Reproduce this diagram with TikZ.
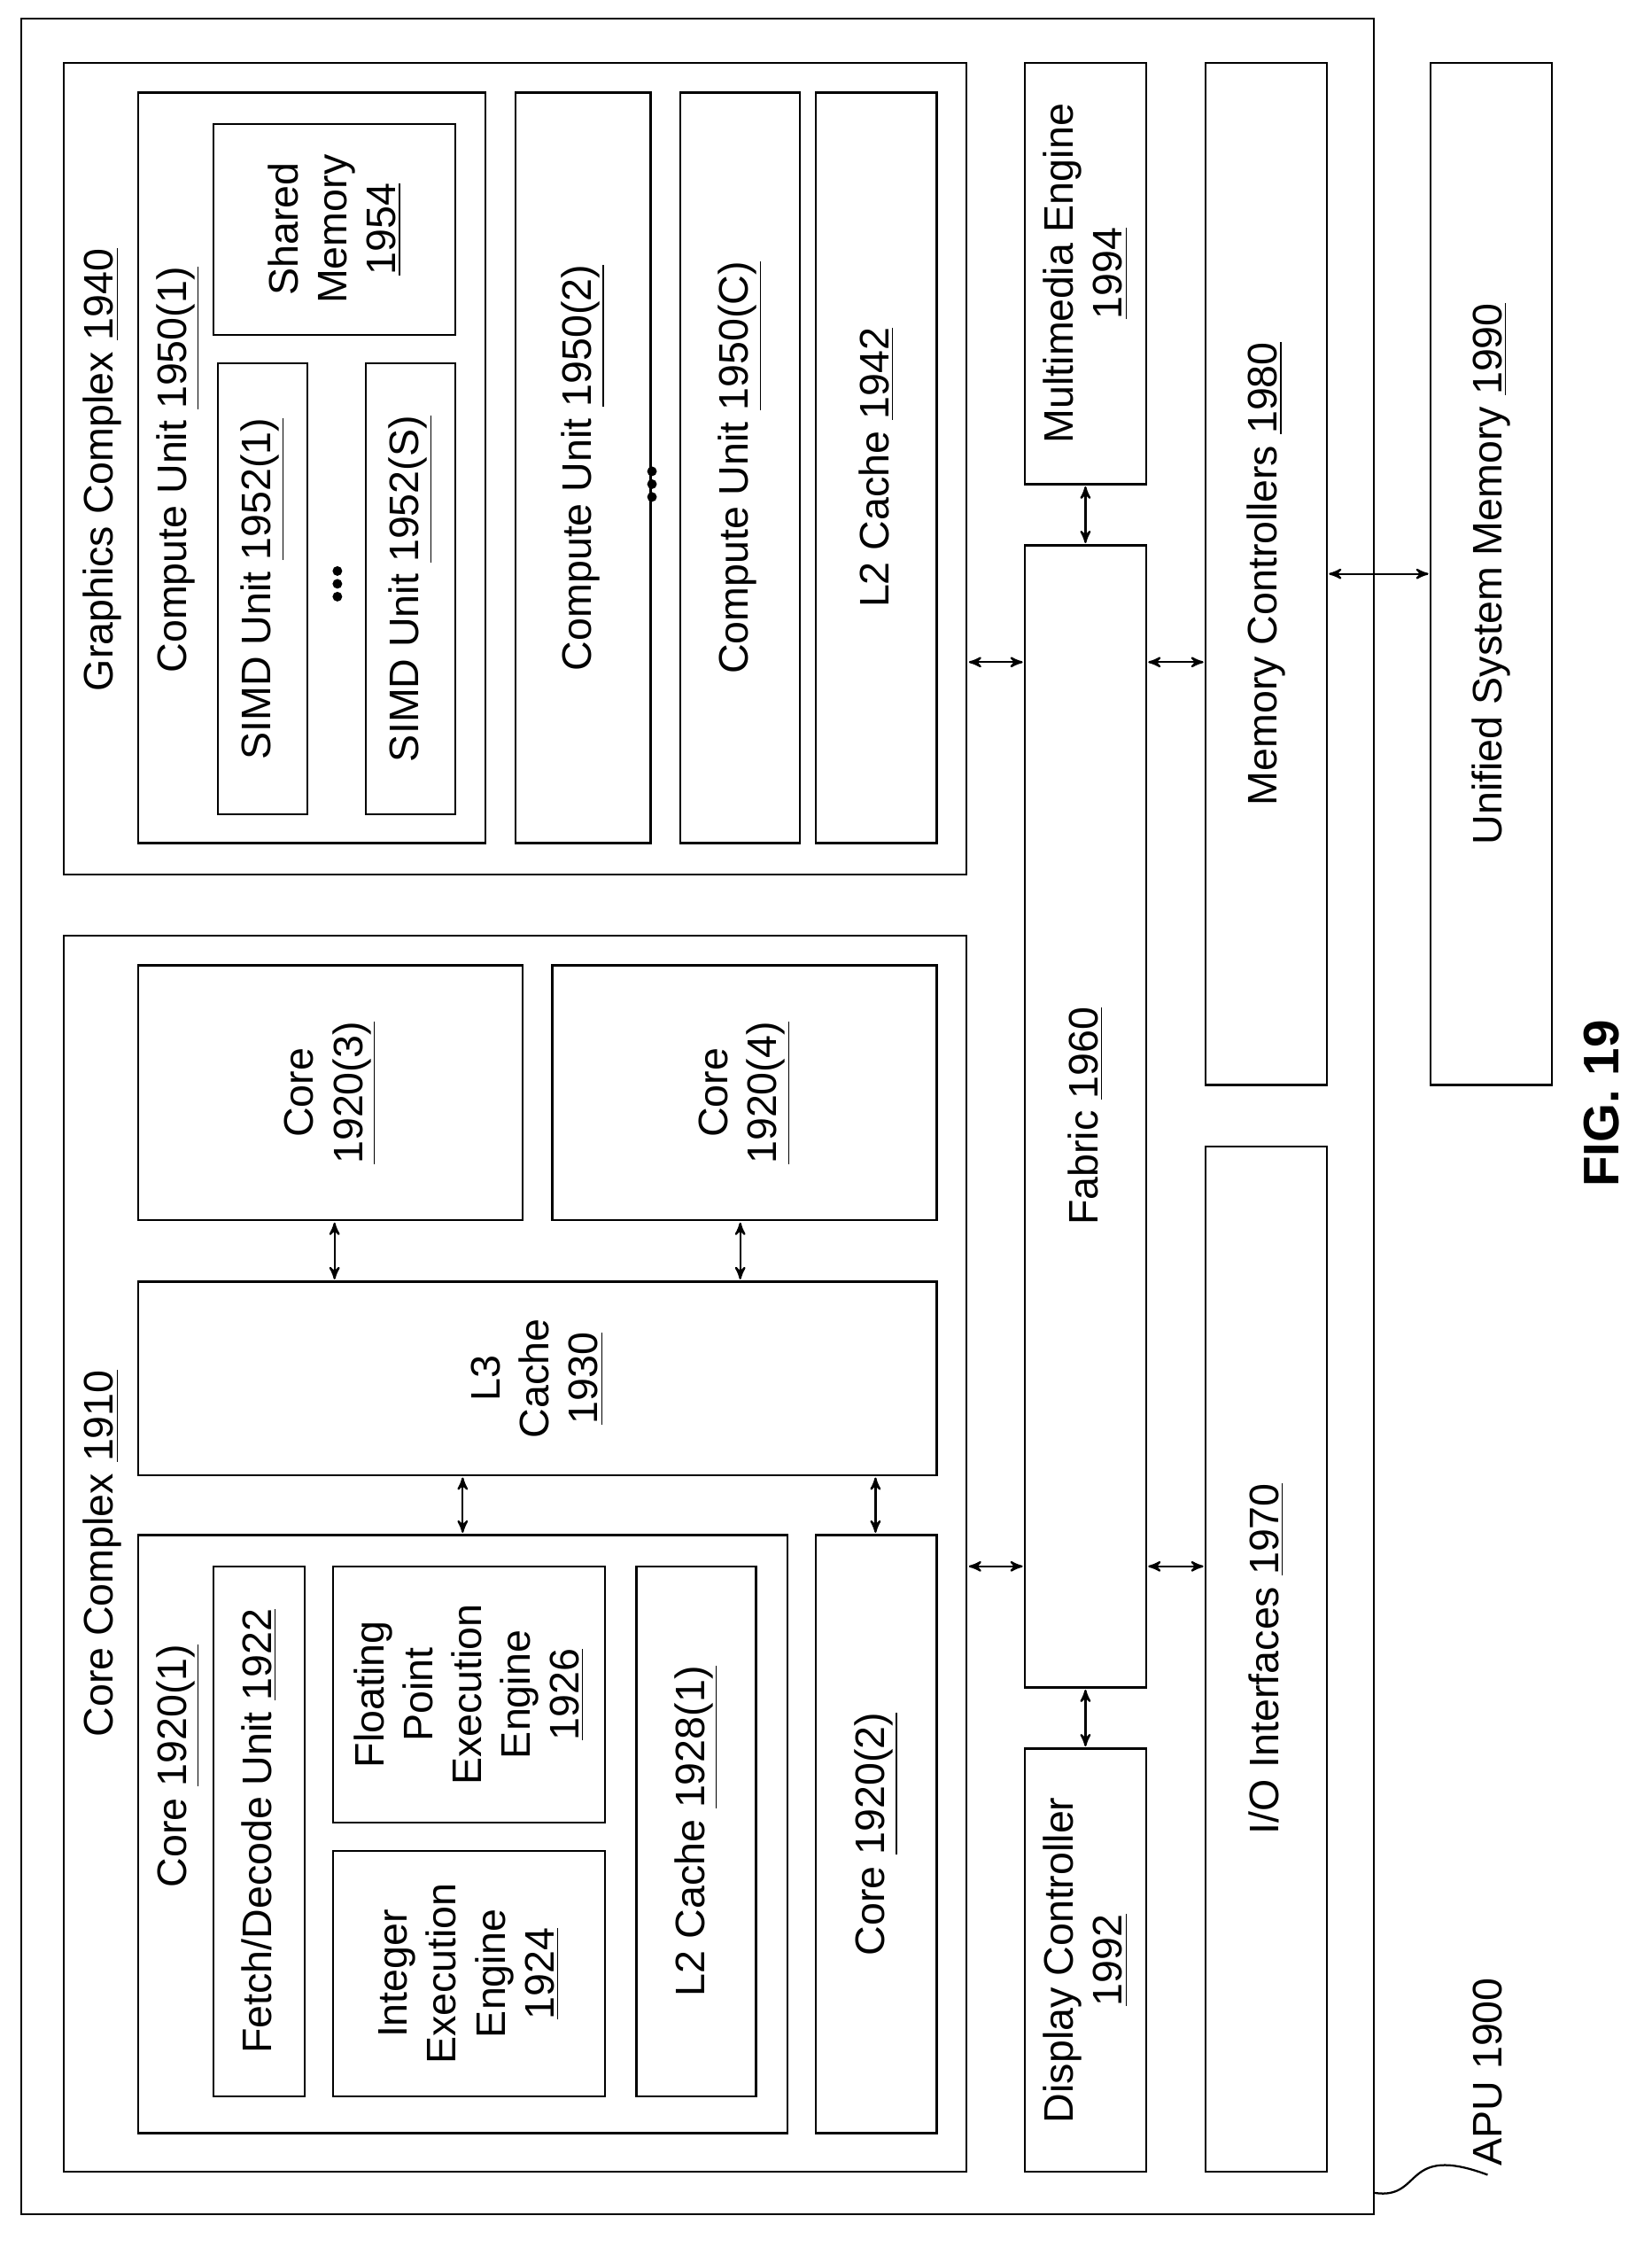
\documentclass[tikz,border=0pt]{standalone}
\usepackage{fontspec}
\setmainfont{Liberation Sans}
\usetikzlibrary{arrows,fit,decorations.pathmorphing}

\tikzset{box/.style={draw,thick,inner sep=0pt,fill=white},
         txt/.style={rotate=90,align=center,font=\fontsize{16.5}{19.5}\selectfont},
         link/.style={<->,>=stealth',thick,shorten <=0.5pt,shorten >=0.5pt}}
\newcommand{\blk}[6]{%
  \node[box,fit={(#2,#3)(#4,#5)}] (#1) {};
  \node[txt] at (#1.center) {#6};}
\newcommand{\un}[1]{\underline{#1}}

\begin{document}
\begin{tikzpicture}[x=0.02cm,y=-0.02cm]
  \useasboundingbox (0,0) rectangle (1160,1578);

  % APU and complexes
  \node[box,fit={(15,13)(965,1555)}] (apu) {};
  \node[box,fit={(45,657)(679,1525)}] (cc) {};
  \node[txt] at (72,1091) {Core Complex \un{1910}};
  \node[box,fit={(97,1078)(553,1498)}] (c1) {};
  \node[txt] at (125,1240) {Core \un{1920(1)}};
  \blk{fd}{150}{1100}{214}{1472}{Fetch/Decode Unit \un{1922}}
  \blk{ie}{234}{1300}{425}{1472}{Integer\\Execution\\Engine\\\un{1924}}
  \blk{fp}{234}{1100}{425}{1280}{Floating\\Point\\Execution\\Engine\\\un{1926}}
  \blk{l2c}{447}{1100}{531}{1472}{L2 Cache \un{1928(1)}}
  \blk{c2}{573}{1078}{658}{1498}{Core \un{1920(2)}}
  \blk{l3}{97}{900}{658}{1036}{L3\\Cache\\\un{1930}}
  \blk{c3}{97}{678}{367}{857}{Core\\\un{1920(3)}}
  \blk{c4}{388}{678}{658}{857}{Core\\\un{1920(4)}}

  \node[box,fit={(45,44)(679,614)}] (gc) {};
  \node[txt] at (72,330) {Graphics Complex \un{1940}};
  \node[box,fit={(97,65)(341,592)}] (cu1) {};
  \node[txt] at (125,330) {Compute Unit \un{1950(1)}};
  \blk{sm1}{153}{255}{216}{572}{SIMD Unit \un{1952(1)}}
  \blk{sms}{257}{255}{320}{572}{SIMD Unit \un{1952(S)}}
  \blk{shm}{150}{87}{320}{235}{Shared\\Memory\\\un{1954}}
  \blk{cu2}{362}{65}{457}{592}{Compute Unit \un{1950(2)}}
  \blk{cuc}{478}{65}{562}{592}{Compute Unit \un{1950(C)}}
  \blk{l2g}{573}{65}{658}{592}{L2 Cache \un{1942}}
  \foreach \d in {-9,0,9} {
    \fill (237,410+\d) circle (3.4);
    \fill (458,340+\d) circle (3.4);
  }

  % fabric and periphery
  \blk{fab}{720}{383}{805}{1185}{Fabric \un{1960}}
  \blk{mm}{720}{44}{805}{340}{Multimedia Engine\\\un{1994}}
  \blk{dc}{720}{1228}{805}{1525}{Display Controller\\\un{1992}}
  \blk{mc}{847}{44}{932}{762}{Memory Controllers \un{1980}}
  \blk{io}{847}{805}{932}{1525}{I/O Interfaces \un{1970}}
  \blk{usm}{1005}{44}{1090}{762}{Unified System Memory \un{1990}}

  \node[txt,font=\bfseries\fontsize{20}{24}\selectfont] (fig) at (1125,775) {FIG. 19};
  \node[txt] (apulbl) at (1045,1455) {APU 1900};
  \draw[thick] (apu.east |- 0,1540) .. controls (1000,1545) and (985,1505) .. (apulbl.west);

  % links
  \draw[link] (c3.south -| 235,0) -- (l3.north -| 235,0);
  \draw[link] (c4.south -| 520,0) -- (l3.north -| 520,0);
  \draw[link] (l3.south -| 325,0) -- (c1.north -| 325,0);
  \draw[link] (l3.south -| 615,0) -- (c2.north -| 615,0);
  \draw[link] (mm.south) -- (fab.north);
  \draw[link] (fab.south) -- (dc.north);
  \draw[link] (gc.east |- 0,465) -- (fab.west |- 0,465);
  \draw[link] (cc.east |- 0,1100) -- (fab.west |- 0,1100);
  \draw[link] (fab.east |- 0,465) -- (mc.west |- 0,465);
  \draw[link] (fab.east |- 0,1100) -- (io.west |- 0,1100);
  \draw[link] (mc.east |- 0,403) -- (usm.west |- 0,403);
\end{tikzpicture}
\end{document}
